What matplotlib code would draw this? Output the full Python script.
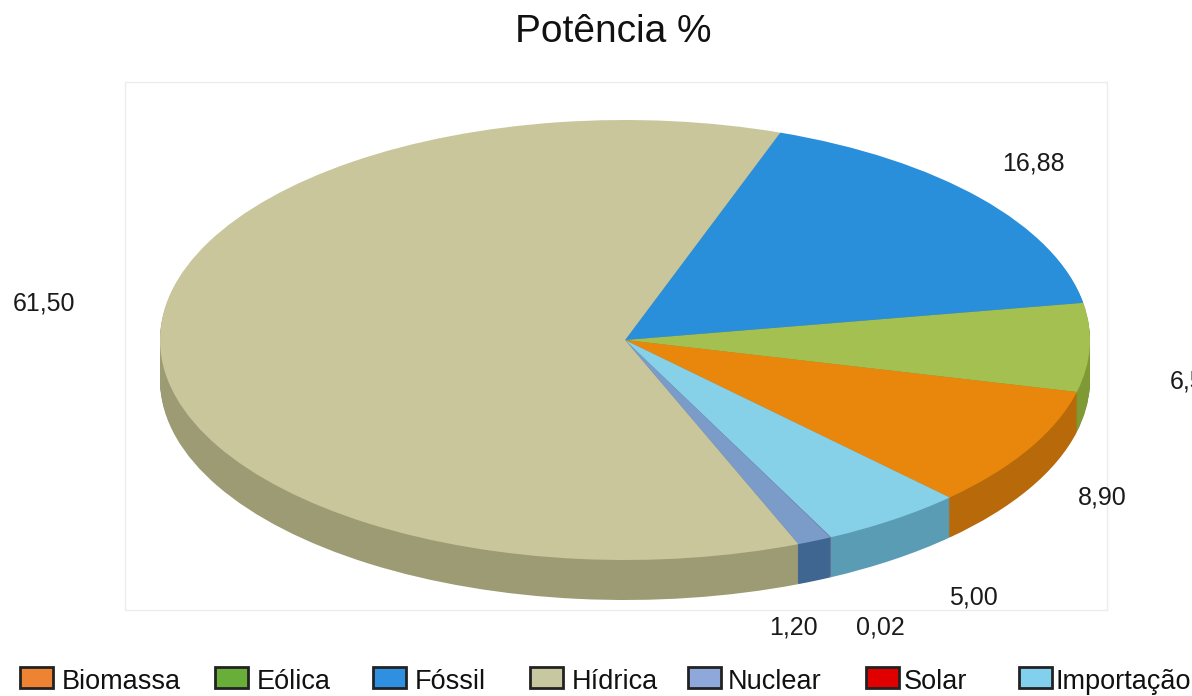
import numpy as np
import matplotlib
matplotlib.use('Agg')
import matplotlib.pyplot as plt
from matplotlib.patches import Rectangle

# slices in drawing order (clockwise from the top)
slice_names = ['Fóssil', 'Eólica', 'Biomassa', 'Importação', 'Solar', 'Nuclear', 'Hídrica']
slice_values = [16.88, 6.50, 8.90, 5.00, 0.02, 1.20, 61.50]

# legend order as in the original
legend_names = ['Biomassa', 'Eólica', 'Fóssil', 'Hídrica', 'Nuclear', 'Solar', 'Importação']

top_colors = {'Fóssil': '#2a8fdb', 'Eólica': '#a4c050', 'Biomassa': '#e8870c',
              'Importação': '#86d0e8', 'Solar': '#8a5a9a', 'Nuclear': '#7b9bc8',
              'Hídrica': '#c9c69c'}
side_colors = {'Fóssil': '#1d6aa6', 'Eólica': '#7f9a35', 'Biomassa': '#b8690a',
               'Importação': '#5b9cb5', 'Solar': '#6a3f78', 'Nuclear': '#3f6591',
               'Hídrica': '#9d9b73'}
legend_colors = {'Biomassa': '#ee8433', 'Eólica': '#6aae3a', 'Fóssil': '#2f8fe0',
                 'Hídrica': '#c8c8a0', 'Nuclear': '#8fa8dc', 'Solar': '#e00000',
                 'Importação': '#80d0ee'}

W, H = 1192, 696
cx, cy, rx, ry = 625, 340, 465, 220   # pie ellipse in pixels
depth = 40
start = 70.5

# where the value labels sit (pixel centres)
label_pos = {'Fóssil': (1033, 163), 'Eólica': (1194, 382), 'Biomassa': (1102, 497),
             'Importação': (973, 597), 'Solar': (880, 628), 'Nuclear': (793, 628),
             'Hídrica': (44, 304)}

leg_box_x = [20, 215, 373, 530, 688, 866, 1019]
leg_text_x = [62, 257, 415, 572, 728, 904, 1055]

plt.rcParams['font.family'] = ['Liberation Sans', 'DejaVu Sans']

fig = plt.figure(figsize=(W / 100, H / 100), dpi=100)
ax = fig.add_axes([0, 0, 1, 1])


def fx(px):
    return px / W


def fy(py):
    return 1 - py / H


# faint plot area border
fig.patches.append(Rectangle((fx(125), fy(610)), fx(1107) - fx(125), fy(82) - fy(610),
                             transform=fig.transFigure, fill=False,
                             edgecolor='#ececec', linewidth=1))

# side of the pie: stacked darker copies shifted down
d = depth / ry
n = 40
for k in range(n):
    off = d * (1 - k / n)
    ax.pie(slice_values, colors=[side_colors[s] for s in slice_names],
           startangle=start, counterclock=False, center=(0, -off),
           wedgeprops=dict(linewidth=0))

ax.pie(slice_values, colors=[top_colors[s] for s in slice_names],
       startangle=start, counterclock=False, center=(0, 0),
       wedgeprops=dict(linewidth=0))

ax.set_aspect('auto')
ax.set_xlim(-cx / rx, (W - cx) / rx)
ax.set_ylim((cy - H) / ry, cy / ry)
ax.axis('off')

for name, val in zip(slice_names, slice_values):
    px, py = label_pos[name]
    fig.text(fx(px), fy(py), ('%.2f' % val).replace('.', ','), fontsize=18,
             ha='center', va='center', color='#1a1a1a')

fig.text(fx(613), fy(42), 'Potência %', fontsize=28, ha='center',
         va='baseline', color='#111111')

for name, bx, tx in zip(legend_names, leg_box_x, leg_text_x):
    fig.patches.append(Rectangle((fx(bx), fy(688)), 33 / W, 21 / H,
                                 transform=fig.transFigure,
                                 facecolor=legend_colors[name],
                                 edgecolor='#222222', linewidth=2))
    fig.text(fx(tx), fy(689), name, fontsize=19.5, ha='left', va='baseline',
             color='#111111')

fig.savefig('out.png', dpi=100)
